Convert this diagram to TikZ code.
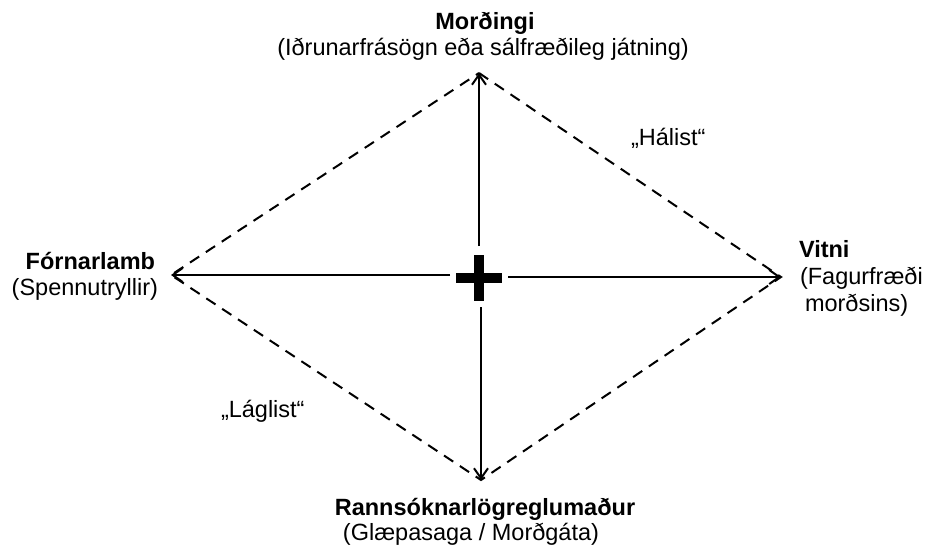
\documentclass[tikz,border=0pt]{standalone}
\usepackage{fontspec}
\setmainfont{Liberation Sans}
\usetikzlibrary{arrows.meta}
\tikzset{
  lbl/.style={inner sep=0pt, outer sep=0pt, font=\fontsize{23.5}{26}\selectfont},
  blbl/.style={lbl, font=\fontsize{23.5}{26}\selectfont\bfseries},
  axis/.style={line width=2pt, -{Straight Barb[length=10pt,width=14pt,line width=2pt]}},
  edge/.style={line width=2pt, dash pattern=on 11pt off 8pt},
  crossbar/.style={fill=black, draw=none}
}
\begin{document}
\begin{tikzpicture}[x=1pt,y=-1pt]
\useasboundingbox (0,0) rectangle (927,549);
% vertices
\coordinate (T) at (479,73);
\coordinate (R) at (781,277);
\coordinate (B) at (481,480);
\coordinate (L) at (171,275);
% inner ends of axes
\coordinate (cT) at (479,246);
\coordinate (cB) at (481,307);
\coordinate (cL) at (450,275);
\coordinate (cR) at (508,277);
% dashed diamond
\draw[edge] (T) -- (R) -- (B) -- (L) -- cycle;
% axes
\draw[axis] (cT) -- (T);
\draw[axis] (cB) -- (B);
\draw[axis] (cL) -- (L);
\draw[axis] (cR) -- (R);
% central cross
\coordinate (C) at (479,278);
\fill[crossbar] ([xshift=-23pt,yshift=-5pt]C) rectangle ([xshift=23pt,yshift=5pt]C);
\fill[crossbar] ([xshift=-5pt,yshift=-23pt]C) rectangle ([xshift=5pt,yshift=23pt]C);
% labels
\node[blbl, anchor=base] (mord) at (485,29) {Morðingi};
\node[lbl, anchor=base] (mordsub) at (483,55) {(Iðrunarfrásögn eða sálfræðileg játning)};
\node[blbl, anchor=base east] (forn) at (155,269) {Fórnarlamb};
\node[lbl, anchor=base east] (fornsub) at (158,295) {(Spennutryllir)};
\node[blbl, anchor=base west] (vitni) at (799,257) {Vitni};
\node[lbl, anchor=base west] (vitnisub) at (800,284) {(Fagurfræði};
\node[lbl, anchor=base west] (vitnisub2) at (805,311) {morðsins)};
\node[blbl, anchor=base] (rann) at (485,515) {Rannsóknarlögreglumaður};
\node[lbl, anchor=base] (rannsub) at (471,540) {(Glæpasaga / Morðgáta)};
\node[lbl, anchor=base west] (hal) at (631,145) {„Hálist“};
\node[lbl, anchor=base west] (lag) at (221,417) {„Láglist“};
\end{tikzpicture}
\end{document}
